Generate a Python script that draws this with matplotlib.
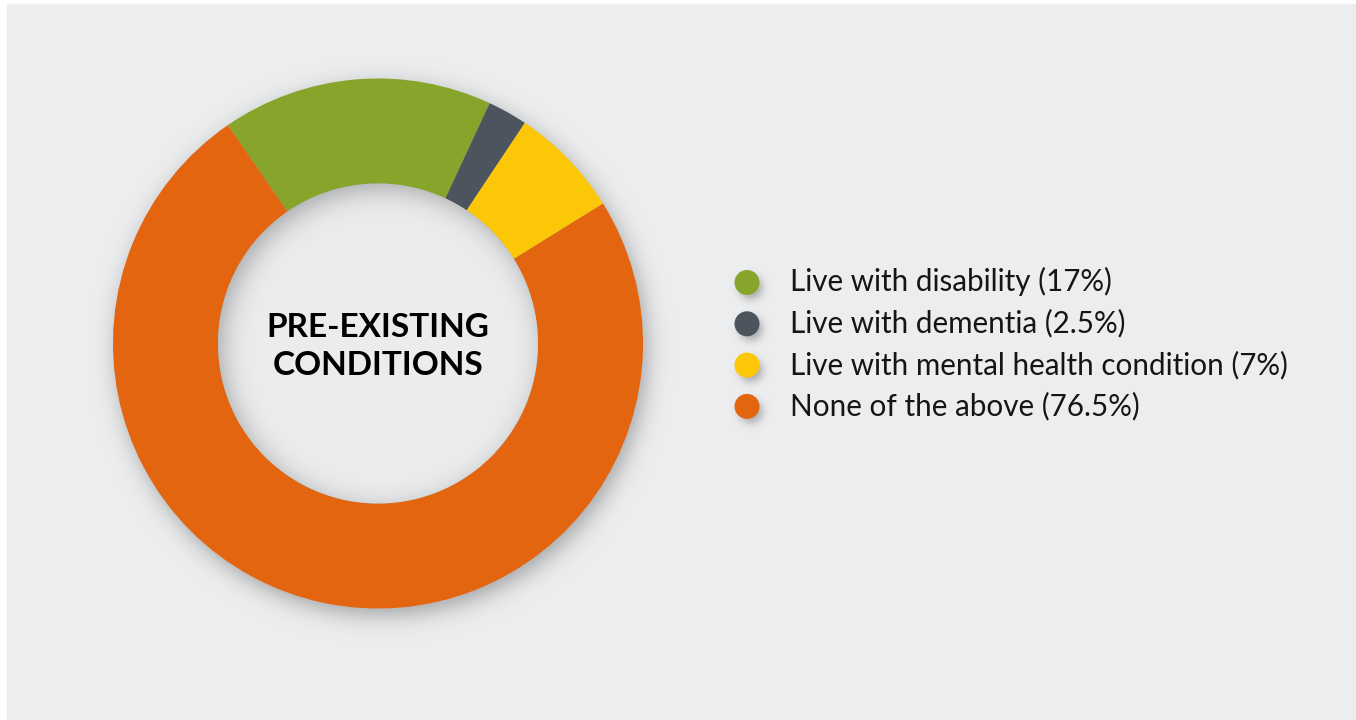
"""Donut chart of pre-existing conditions with a side legend."""

import matplotlib.pyplot as plt
import numpy as np
from matplotlib.colors import to_rgb
from matplotlib.patches import Circle, Rectangle

LABELS = [
    "Live with disability (17%)",
    "Live with dementia (2.5%)",
    "Live with mental health condition (7%)",
    "None of the above (76.5%)",
]
VALUES = [17, 2.5, 7, 76.5]
COLORS = ["#88A52B", "#4C555D", "#FCC707", "#E4650F"]
CENTER_TITLE = ["PRE-EXISTING", "CONDITIONS"]

BG = "#ECEDEF"
W, H = 1356, 720
CX, CY = 378, 376.5
R_OUT, R_IN = 265, 160

XX, YY = np.meshgrid(np.arange(W) + 0.5, np.arange(H) + 0.5)


def drop_shadow(cx, cy, radius, blur, strength):
    """RGBA layer with a soft shadow of a disc."""
    r = np.hypot(XX - cx, YY - cy)
    img = np.zeros((H, W, 4))
    img[..., 3] = strength * 0.5 * (1 - np.tanh((r - radius) / blur))
    return img


def hole_layer(cx, cy, radius, dx, dy, blur, strength):
    """Filled centre of the ring with an inner shadow along its rim."""
    r = np.hypot(XX - cx, YY - cy)
    rs = np.hypot(XX - cx - dx, YY - cy - dy)
    shade = strength * 0.5 * (1 + np.tanh((rs - radius) / blur))
    img = np.zeros((H, W, 4))
    img[..., :3] = np.array(to_rgb(BG)) * (1 - shade)[..., None]
    img[..., 3] = np.clip(radius - r + 0.5, 0, 1)
    return img


fig = plt.figure(figsize=(W / 100, H / 100), dpi=100, facecolor="white")
ax = fig.add_axes([0, 0, 1, 1])

ax.add_patch(Rectangle((7, 0), W - 7, H - 4, color=BG, zorder=0))

# soft shadow under the ring
ax.imshow(drop_shadow(CX + 4, CY - 7, R_OUT, 13, 0.30), extent=(0, W, 0, H),
          origin="lower", zorder=1, interpolation="bilinear")

wedges, _ = ax.pie(VALUES, colors=COLORS, startangle=124.5, counterclock=False,
                   radius=R_OUT, center=(CX, CY),
                   wedgeprops=dict(width=R_OUT - R_IN, linewidth=0))
for w in wedges:
    w.set_zorder(2)

ax.imshow(hole_layer(CX, CY, R_IN, 5, -6, 16, 0.30), extent=(0, W, 0, H),
          origin="lower", zorder=3, interpolation="bilinear")

ax.text(CX, CY + 6.5, CENTER_TITLE[0], ha="center", va="baseline", fontsize=24,
        fontweight="bold", family="Lato", color="black", zorder=5)
ax.text(CX, CY - 31.5, CENTER_TITLE[1], ha="center", va="baseline", fontsize=24,
        fontweight="bold", family="Lato", color="black", zorder=5)

# legend
leg_x, leg_y, leg_step = 747, 437.5, 41.3
for i, (label, color) in enumerate(zip(LABELS, COLORS)):
    y = leg_y - i * leg_step
    ax.imshow(drop_shadow(leg_x + 4, y - 5, 11, 5, 0.28), extent=(0, W, 0, H),
              origin="lower", zorder=5, interpolation="bilinear")
    ax.add_patch(Circle((leg_x, y), 12.5, color=color, zorder=6, linewidth=0))
    ax.text(790, y - 9, label, ha="left", va="baseline", fontsize=21.3,
            family="Lato", color="#151515", zorder=6)

ax.set_xlim(0, W)
ax.set_ylim(0, H)
ax.set_aspect("equal")
ax.axis("off")

fig.savefig("out.png", dpi=100, facecolor="white")
plt.close(fig)
